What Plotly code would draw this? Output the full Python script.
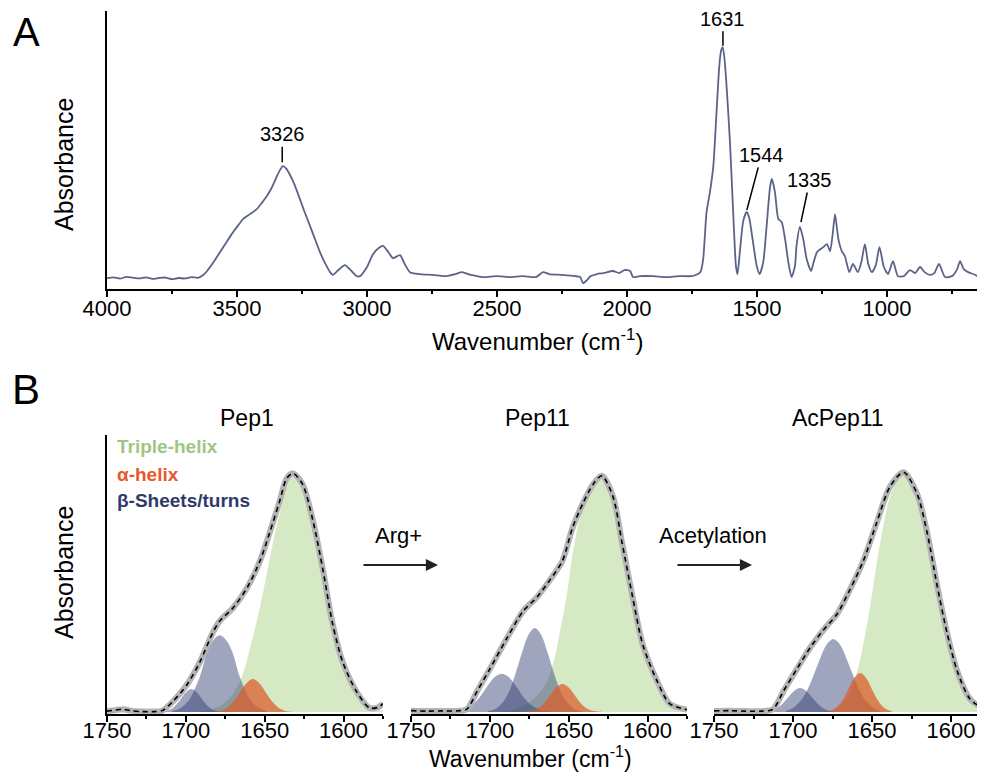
import numpy as np
import plotly.graph_objects as go

# ---------------- Panel A data: full FTIR spectrum ----------------
wnA = [4000, 3975, 3950, 3925, 3900, 3875, 3850, 3825, 3800, 3775, 3750, 3725, 3700, 3675, 3650,
       3630, 3615, 3590, 3565, 3540, 3515, 3495, 3477, 3450, 3423, 3405, 3385, 3365, 3346, 3335,
       3323, 3310, 3296, 3278, 3258, 3240, 3219, 3200, 3181, 3160, 3142, 3131, 3110, 3085, 3060,
       3040, 3027, 3000, 2977, 2955, 2938, 2918, 2900, 2873, 2855, 2835, 2800, 2746, 2700, 2660,
       2635, 2600, 2554, 2500, 2450, 2400, 2350, 2323, 2300, 2250, 2200, 2180, 2169, 2154, 2140,
       2115, 2090, 2054, 2030, 2010, 1988, 1977, 1950, 1900, 1850, 1800, 1750, 1727, 1717, 1707,
       1694, 1681, 1668, 1655, 1645, 1638, 1632, 1625, 1617, 1604, 1591, 1581, 1575, 1566, 1553,
       1540, 1530, 1521, 1501, 1490, 1476, 1463, 1450, 1443, 1431, 1418, 1405, 1392, 1379, 1367,
       1354, 1348, 1335, 1322, 1309, 1292, 1283, 1269, 1245, 1231, 1219, 1208, 1200, 1187, 1174,
       1162, 1145, 1131, 1112, 1098, 1085, 1072, 1058, 1043, 1029, 1012, 996, 977, 958, 935,
       912, 892, 873, 855, 835, 818, 800, 777, 750, 730, 719, 705, 688, 660, 623]
absA = [0.012, 0.016, 0.010, 0.018, 0.014, 0.011, 0.016, 0.009, 0.013, 0.015, 0.008, 0.013, 0.011, 0.017, 0.014,
        0.026, 0.043, 0.081, 0.124, 0.167, 0.209, 0.239, 0.265, 0.286, 0.308, 0.333, 0.363, 0.402, 0.449, 0.474,
        0.491, 0.479, 0.453, 0.410, 0.350, 0.295, 0.235, 0.179, 0.124, 0.073, 0.038, 0.026, 0.047, 0.068, 0.043,
        0.021, 0.021, 0.060, 0.115, 0.141, 0.150, 0.124, 0.098, 0.111, 0.073, 0.038, 0.030, 0.026, 0.021, 0.030,
        0.038, 0.026, 0.017, 0.021, 0.017, 0.021, 0.017, 0.038, 0.030, 0.026, 0.021, 0.017, -0.009, 0.004, 0.021,
        0.030, 0.034, 0.043, 0.034, 0.047, 0.043, 0.017, 0.021, 0.021, 0.017, 0.021, 0.021, 0.030, 0.040, 0.094,
        0.295, 0.380, 0.491, 0.735, 0.919, 0.985, 1.000, 0.950, 0.833, 0.594, 0.278, 0.064, 0.030, 0.124, 0.256,
        0.295, 0.270, 0.209, 0.064, 0.030, 0.081, 0.235, 0.400, 0.436, 0.380, 0.265, 0.252, 0.179, 0.077, 0.017,
        0.064, 0.150, 0.231, 0.179, 0.094, 0.043, 0.077, 0.124, 0.145, 0.158, 0.128, 0.209, 0.286, 0.179, 0.128,
        0.107, 0.038, 0.073, 0.038, 0.085, 0.158, 0.073, 0.038, 0.068, 0.145, 0.060, 0.030, 0.085, 0.021, 0.021,
        0.047, 0.034, 0.060, 0.038, 0.026, 0.034, 0.073, 0.017, 0.021, 0.051, 0.085, 0.051, 0.038, 0.026, 0.000]
peak_labels = [3326, 1631, 1544, 1335]
xticksA = [4000, 3500, 3000, 2500, 2000, 1500, 1000]

# ---------------- Panel B data: amide I deconvolution ----------------
samples = ["Pep1", "Pep11", "AcPep11"]
steps = ["Arg+", "Acetylation"]
legend_names = ["Triple-helix", "α-helix", "β-Sheets/turns"]
xticksB = [1750, 1700, 1650, 1600]

# envelopes (measured / fitted sum)
env_wn_pep1 = [1750, 1745, 1740, 1735, 1728, 1720, 1715, 1708, 1699, 1691, 1683, 1678.5, 1670, 1661, 1653,
               1647, 1640.5, 1636, 1632, 1626, 1619.5, 1613, 1607, 1600.6, 1592, 1583.5, 1578, 1575]
env_a_pep1 = [0.004, 0.008, 0.012, 0.006, 0.002, 0.002, 0.006, 0.046, 0.117, 0.21, 0.33, 0.38, 0.435, 0.52, 0.63,
              0.745, 0.88, 0.975, 0.995, 0.95, 0.80, 0.59, 0.37, 0.21, 0.088, 0.017, 0.02, 0.035]
env_wn_pep11 = [1750, 1740, 1730, 1721, 1714.6, 1708, 1700, 1689, 1679, 1670, 1662, 1654, 1647.5, 1641,
                1634.5, 1629, 1622, 1616, 1609.5, 1603, 1594, 1586, 1575]
env_a_pep11 = [0.006, 0.004, 0.005, 0.005, 0.012, 0.088, 0.18, 0.31, 0.42, 0.48, 0.55, 0.63, 0.77, 0.87,
               0.95, 0.985, 0.90, 0.70, 0.48, 0.28, 0.13, 0.035, 0.01]
env_wn_ac = [1750, 1740, 1730, 1720, 1712.7, 1706, 1697.5, 1689, 1681, 1672, 1664, 1655.5, 1647, 1638.6,
             1630, 1621.5, 1615, 1609, 1602.5, 1596, 1588, 1578.5]
env_a_ac = [0.005, 0.006, 0.004, 0.004, 0.012, 0.088, 0.18, 0.27, 0.34, 0.41, 0.51, 0.63, 0.79, 0.94,
            1.0, 0.91, 0.745, 0.535, 0.33, 0.17, 0.055, 0.01]

# triple helix bands
th_wn_pep1 = [1700, 1690, 1680, 1672, 1665, 1658, 1651, 1645, 1640, 1636, 1632, 1627, 1620, 1613, 1607, 1600, 1592, 1584, 1575]
th_a_pep1 = [0.0, 0.005, 0.02, 0.06, 0.14, 0.30, 0.50, 0.70, 0.84, 0.94, 0.99, 0.95, 0.80, 0.58, 0.37, 0.20, 0.085, 0.02, 0.005]
th_wn_pep11 = [1700, 1685, 1675, 1666, 1660, 1656, 1651, 1647, 1641, 1635, 1628, 1622, 1616, 1609.5, 1603, 1594, 1586, 1578, 1575]
th_a_pep11 = [0.0, 0.01, 0.04, 0.10, 0.20, 0.32, 0.50, 0.68, 0.86, 0.95, 0.985, 0.90, 0.70, 0.48, 0.28, 0.12, 0.035, 0.008, 0.0]
th_wn_ac = [1690, 1675, 1668, 1664, 1659, 1655, 1651, 1647, 1643, 1638.6, 1634, 1630, 1621.5, 1615, 1609, 1602.5, 1596, 1588, 1578.5]
th_a_ac = [0.0, 0.01, 0.04, 0.08, 0.18, 0.30, 0.45, 0.62, 0.77, 0.90, 0.97, 1.0, 0.91, 0.745, 0.535, 0.33, 0.17, 0.055, 0.01]

# alpha helix bands
ah_wn_pep1 = [1682.5, 1677.5, 1673.5, 1669.5, 1665.5, 1661.5, 1657.5, 1653.5, 1649.5, 1645.5, 1641.5, 1637.5, 1632.5]
ah_a_pep1 = [0.001, 0.006, 0.019, 0.046, 0.084, 0.121, 0.138, 0.121, 0.084, 0.046, 0.019, 0.006, 0.001]
ah_wn_pep11 = [1679, 1674, 1670, 1666, 1662, 1658, 1654, 1650, 1646, 1642, 1638, 1634, 1629]
ah_a_pep11 = [0.001, 0.004, 0.013, 0.034, 0.068, 0.102, 0.117, 0.102, 0.068, 0.034, 0.013, 0.004, 0.001]
ah_wn_ac = [1677.5, 1673.5, 1669.5, 1665.5, 1661.5, 1657.5, 1653.5, 1649.5, 1645.5, 1641.5, 1637.5]
ah_a_ac = [0.0035, 0.014, 0.041, 0.088, 0.14, 0.163, 0.14, 0.088, 0.041, 0.014, 0.0035]

# beta sheet / turn bands (main)
bs_wn_pep1 = [1708.5, 1703.5, 1698.5, 1694.5, 1690.5, 1686.5, 1682.5, 1678.5, 1674.5, 1670.5, 1666.5, 1662.5, 1658.5, 1653.5, 1648.5]
bs_a_pep1 = [0.004, 0.016, 0.046, 0.094, 0.16, 0.25, 0.30, 0.32, 0.30, 0.25, 0.16, 0.094, 0.046, 0.016, 0.004]
bs_wn_pep11 = [1701.5, 1696.5, 1691.5, 1687.5, 1683.5, 1679.5, 1675.5, 1671.5, 1667.5, 1663.5, 1659.5, 1655.5, 1651.5, 1646.5, 1641.5]
bs_a_pep11 = [0.003, 0.013, 0.043, 0.091, 0.165, 0.25, 0.322, 0.35, 0.322, 0.25, 0.165, 0.091, 0.043, 0.013, 0.003]
bs_wn_ac = [1704.5, 1699.5, 1694.5, 1690.5, 1686.5, 1682.5, 1678.5, 1674.5, 1670.5, 1666.5, 1662.5, 1658.5, 1654.5, 1649.5, 1644.5]
bs_a_ac = [0.005, 0.019, 0.052, 0.098, 0.162, 0.229, 0.284, 0.305, 0.284, 0.229, 0.162, 0.098, 0.052, 0.019, 0.005]

# beta turn bands (high wavenumber)
bt_wn_pep1 = [1716.5, 1712.5, 1708.5, 1704.5, 1700.5, 1696.5, 1692.5, 1688.5, 1684.5, 1680.5, 1676.5]
bt_a_pep1 = [0.001, 0.004, 0.016, 0.043, 0.079, 0.096, 0.079, 0.043, 0.016, 0.004, 0.001]
bt_wn_pep11 = [1722.5, 1717.5, 1712.5, 1708.5, 1704.5, 1700.5, 1696.5, 1692.5, 1688.5, 1684.5, 1680.5, 1676.5, 1672.5, 1667.5, 1662.5]
bt_a_pep11 = [0.002, 0.008, 0.023, 0.046, 0.08, 0.118, 0.148, 0.16, 0.148, 0.118, 0.08, 0.046, 0.023, 0.008, 0.002]
bt_wn_ac = [1715.5, 1711.5, 1707.5, 1703.5, 1699.5, 1695.5, 1691.5, 1687.5, 1683.5, 1679.5, 1675.5]
bt_a_ac = [0.003, 0.011, 0.029, 0.058, 0.087, 0.10, 0.087, 0.058, 0.029, 0.011, 0.003]

# ---------------- styling ----------------
# the page body adds an 8 px margin, so the figure is drawn 8 px in from the window corner
OFF = 8
W, H = 985 - 2 * OFF, 782 - 2 * OFF
FONT = "Liberation Sans, Arial, sans-serif"
SPEC_COLOR = "#5b6389"
GREEN_FILL = "rgba(150,200,110,0.40)"
ORANGE_FILL = "rgba(222,90,40,0.72)"
NAVY_FILL = "rgba(45,55,110,0.45)"
LEG_COLORS = ["#9fc585", "#e8582c", "#2f3a6b"]
XTITLE = "Wavenumber (cm<sup>-1</sup>)"


def px(x):
    """window pixel x -> paper fraction"""
    return min(1.0, (x - OFF) / W)


def py(y):
    """window pixel y -> paper fraction"""
    return 1 - (y - OFF) / H


fig = go.Figure()

# Panel A spectrum
fig.add_trace(go.Scatter(x=wnA, y=absA, mode="lines", xaxis="x", yaxis="y",
                         line=dict(color=SPEC_COLOR, width=1.8, shape="spline", smoothing=0.6),
                         showlegend=False, hoverinfo="skip"))

# Panel B
panels = [
    ("x2", env_wn_pep1, env_a_pep1, th_wn_pep1, th_a_pep1, bt_wn_pep1, bt_a_pep1, bs_wn_pep1, bs_a_pep1, ah_wn_pep1, ah_a_pep1),
    ("x3", env_wn_pep11, env_a_pep11, th_wn_pep11, th_a_pep11, bt_wn_pep11, bt_a_pep11, bs_wn_pep11, bs_a_pep11, ah_wn_pep11, ah_a_pep11),
    ("x4", env_wn_ac, env_a_ac, th_wn_ac, th_a_ac, bt_wn_ac, bt_a_ac, bs_wn_ac, bs_a_ac, ah_wn_ac, ah_a_ac),
]
for (xa, ew, ea, tw, ta, btw, bta, bsw, bsa, aw, aa) in panels:
    for (wx, ay, col) in [(tw, ta, GREEN_FILL), (btw, bta, NAVY_FILL), (bsw, bsa, NAVY_FILL), (aw, aa, ORANGE_FILL)]:
        fig.add_trace(go.Scatter(x=wx, y=ay, mode="lines", xaxis=xa, yaxis="y2",
                                 fill="tozeroy", fillcolor=col,
                                 line=dict(width=0, shape="spline", smoothing=1),
                                 showlegend=False, hoverinfo="skip"))
    fig.add_trace(go.Scatter(x=ew, y=ea, mode="lines", xaxis=xa, yaxis="y2",
                             line=dict(color="#b3b3b3", width=6, shape="spline", smoothing=0.8),
                             showlegend=False, hoverinfo="skip"))
    fig.add_trace(go.Scatter(x=ew, y=ea, mode="lines", xaxis=xa, yaxis="y2",
                             line=dict(color="black", width=1.6, dash="5px,4px", shape="spline", smoothing=0.8),
                             showlegend=False, hoverinfo="skip"))

axis_common = dict(showline=True, linecolor="black", linewidth=2, showgrid=False, zeroline=False,
                   automargin=False, ticks="outside", ticklen=6, tickwidth=1.5, tickcolor="black",
                   tickfont=dict(family=FONT, size=22, color="black"))
minorA = dict(dtick=250, tick0=0, ticks="outside", ticklen=3, tickwidth=1.5, tickcolor="black")
minorB = dict(dtick=25, tick0=0, ticks="outside", ticklen=3, tickwidth=1.5, tickcolor="black")

# end of the visible axis in window pixels (985 - OFF) converted to data
endA = 4000 - (985 - OFF - 107) / 0.26
endB3 = 1750 - (985 - OFF - 714) / 1.58

fig.update_layout(
    template="none",
    width=W, height=H,
    margin=dict(l=0, r=0, t=0, b=0, pad=0, autoexpand=False),
    paper_bgcolor="white", plot_bgcolor="rgba(0,0,0,0)",
    font=dict(family=FONT, color="black"),
    xaxis=dict(domain=[px(107), 1.0], range=[4000, endA], anchor="y", tickvals=xticksA, minor=minorA,
               ticklabelstandoff=-7, **axis_common),
    yaxis=dict(domain=[py(289), py(11)], range=[-0.034, 1.154], anchor="x", showline=True, linecolor="black",
               linewidth=2, showgrid=False, zeroline=False, showticklabels=False, ticks="", automargin=False),
    xaxis2=dict(domain=[px(107), px(383)], range=[1750, 1575], anchor="y2", tickvals=xticksB, minor=minorB,
                ticklabelstandoff=-10, **axis_common),
    xaxis3=dict(domain=[px(411), px(687)], range=[1750, 1575], anchor="y2", tickvals=xticksB, minor=minorB,
                ticklabelstandoff=-10, **axis_common),
    xaxis4=dict(domain=[px(714), 1.0], range=[1750, endB3], anchor="y2", tickvals=xticksB, minor=minorB,
                ticklabelstandoff=-10, **axis_common),
    yaxis2=dict(domain=[py(714), py(435)], range=[-0.008, 1.155], anchor="x2", showline=True, linecolor="black",
                linewidth=2, showgrid=False, zeroline=False, showticklabels=False, ticks="", automargin=False),
)

ann = []


def paper_text(text, x, y, size, angle=0, color="black", xanchor="center", yanchor="middle"):
    return dict(text=text, x=px(x), y=py(y), xref="paper", yref="paper", showarrow=False,
                xanchor=xanchor, yanchor=yanchor, textangle=angle,
                font=dict(size=size, family=FONT, color=color))


# panel letters
ann.append(paper_text("A", 26, 8, 40, yanchor="top"))
ann.append(paper_text("B", 26, 390, 42))
# y titles
for yc in (165, 573):
    ann.append(paper_text("Absorbance", 64, yc, 25, angle=-90))
# x titles
ann.append(paper_text(XTITLE, 537, 340, 24))
ann.append(paper_text(XTITLE, 530, 774, 23, yanchor="bottom"))

# peak labels in A
offsets = {3326: (0, -33, 5), 1631: (0, -30, 3), 1544: (16, -60, 5), 1335: (10, -47, 5)}
wr = np.array(wnA[::-1], dtype=float)
ar = np.array(absA[::-1], dtype=float)
for p in peak_labels:
    yv = float(np.interp(p, wr, ar))
    dx, dy, so = offsets[p]
    ann.append(dict(text=str(p), x=p, y=yv, xref="x", yref="y", showarrow=True, arrowhead=0,
                    arrowwidth=1.5, arrowcolor="black", ax=dx, ay=dy, standoff=so,
                    xanchor="center", yanchor="middle",
                    font=dict(size=20, family=FONT)))

# sample titles
for name, xc in zip(samples, (247, 537, 838)):
    ann.append(paper_text(name, xc, 418, 23))

# legend text
for name, col, yc in zip(legend_names, LEG_COLORS, (446, 474, 500)):
    ann.append(paper_text("<b>" + name + "</b>", 115, yc, 19, color=col, xanchor="left"))

# step arrows
for step, xc, x0, x1 in zip(steps, (398, 713), (362, 676), (438, 752)):
    ann.append(paper_text(step, xc, 535, 22))
    ann.append(dict(text="", x=px(x1), y=py(565), xref="paper", yref="paper", showarrow=True,
                    arrowhead=2, arrowsize=1.1, arrowwidth=2.2, arrowcolor="#222222",
                    ax=x0 - x1, ay=0))

fig.update_layout(annotations=ann)
fig.write_html("out.html")
